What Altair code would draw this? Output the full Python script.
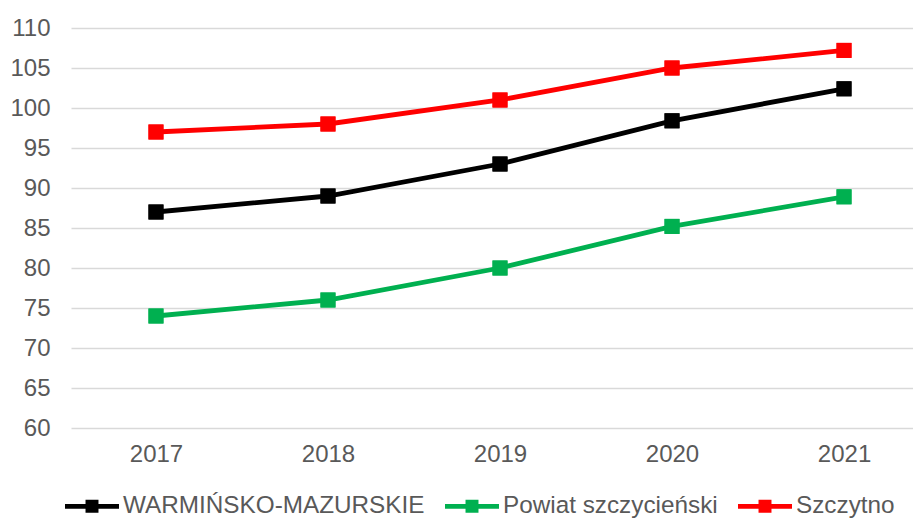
import altair as alt
import pandas as pd

years = [2017, 2018, 2019, 2020, 2021]
series_names = ["WARMIŃSKO-MAZURSKIE", "Powiat szczycieński", "Szczytno"]
warm_maz = [87.0, 89.0, 93.0, 98.4, 102.4]
powiat = [74.0, 76.0, 80.0, 85.2, 88.9]
szczytno = [97.0, 98.0, 101.0, 105.0, 107.2]
colors = ["#000000", "#00B050", "#FF0000"]
y_ticks = [60, 65, 70, 75, 80, 85, 90, 95, 100, 105, 110]

rows = []
for name, vals in zip(series_names, [warm_maz, powiat, szczytno]):
    for yr, v in zip(years, vals):
        rows.append({"year": yr, "value": v, "series": name})
df = pd.DataFrame(rows)

FONT = "Liberation Sans"
GRAY = "#595959"

x_enc = alt.X("year:Q", title=None,
              scale=alt.Scale(domain=[2016.506, 2021.401], nice=False, zero=False),
              axis=alt.Axis(values=years, format="d", labelAngle=0, labelFontSize=24,
                            labelColor=GRAY, labelFont=FONT, labelFlush=False,
                            ticks=False, domain=False, grid=False, labelPadding=14))
y_enc = alt.Y("value:Q", title=None,
              scale=alt.Scale(domain=[60, 110], nice=False, zero=False),
              axis=alt.Axis(values=y_ticks, labelFontSize=24, labelColor=GRAY, labelFont=FONT,
                            ticks=False, domain=False, grid=True, gridColor="#D9D9D9",
                            gridWidth=1.5, labelPadding=21))

sym_path = "M-1,-0.09H1V0.09H-1Z M-0.24,-0.24H0.24V0.24H-0.24Z"

legend = alt.Legend(orient="none", legendX=-6, legendY=451,
                    direction="horizontal", title=None,
                    symbolType=sym_path, symbolSize=2916,
                    symbolStrokeWidth=0, symbolOpacity=1,
                    labelFontSize=24.3, labelColor=GRAY, labelFont=FONT,
                    labelOffset=4, columnPadding=20, padding=0,
                    labelLimit=500)

color_enc = alt.Color("series:N", sort=series_names,
                      scale=alt.Scale(domain=series_names, range=colors),
                      legend=legend)

points = alt.Chart(df).mark_point(shape="square", filled=True, size=225, opacity=1).encode(
    x=x_enc, y=y_enc, color=color_enc,
)

lines = alt.Chart(df).mark_line(strokeWidth=4.8).encode(
    x=x_enc, y=y_enc, color=color_enc, detail="series:N",
)

chart = alt.layer(points, lines, points).properties(
    width=842, height=400,
    autosize=alt.AutoSizeParams(type="none"),
    padding={"left": 63, "top": 20, "right": 0, "bottom": 90},
).configure_view(stroke=None)

chart.save("out.html", embed_options={"renderer": "svg", "actions": False})
